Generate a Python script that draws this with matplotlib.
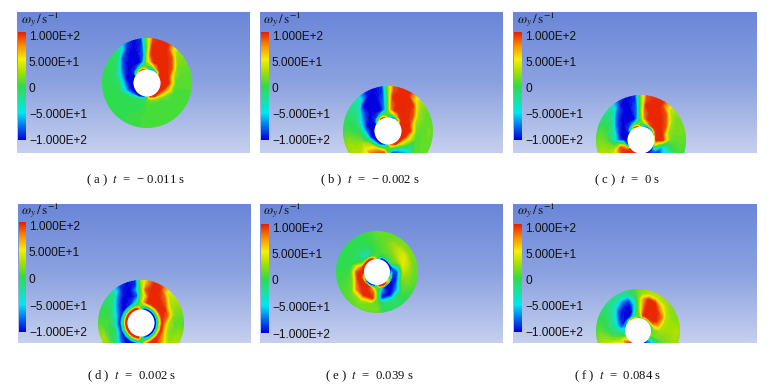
import numpy as np
import matplotlib
matplotlib.use("Agg")
import matplotlib.pyplot as plt
from matplotlib.colors import LinearSegmentedColormap
from matplotlib.patches import Circle

plt.rcParams["mathtext.fontset"] = "stix"
plt.rcParams["font.family"] = ["Liberation Sans", "DejaVu Sans"]

# polar sampling of the field: degrees clockwise from the top, and fraction from hole edge to rim
angles_deg = [0, 8, 18, 30, 45, 60, 75, 90, 110, 130, 150, 170, 180, 190, 210, 230, 250, 270, 285, 300, 315, 330, 342, 352]
ring_fracs = [0, .05, .12, .25, .45, .65, .82, 1]

omega_a = [
 [0,-80,-100,-90,-30,100,100,100,100,100,100,90,0,-90,-100,-100,-100,-100,-100,-100,30,90,100,80],
 [0,-30,-40,-20,40,100,100,100,100,100,100,60,0,-60,-100,-100,-100,-100,-100,-100,-20,30,40,30],
 [10,10,25,70,100,100,100,100,100,70,30,15,10,0,-20,-70,-100,-100,-100,-100,-90,-60,-20,0],
 [30,60,100,100,100,100,100,100,60,15,5,5,5,0,0,-5,-60,-70,-100,-100,-100,-100,-100,-50],
 [25,95,100,100,100,90,25,10,5,5,5,5,5,0,0,0,-3,-8,-35,-80,-100,-100,-100,-80],
 [10,100,100,100,90,15,10,8,5,5,5,5,5,3,0,0,0,-3,-5,-8,-80,-100,-100,-85],
 [15,95,100,100,25,15,10,8,5,5,5,5,5,3,0,0,0,-3,-3,-5,-10,-90,-100,-90],
 [20,90,100,90,20,15,10,8,5,5,5,5,5,3,0,0,0,-3,-3,-5,-10,-60,-100,-90],
]
omega_b = [
 [0,-60,-100,-100,-40,100,100,100,100,100,100,80,0,-80,-100,-100,-100,-100,-100,-100,30,100,100,60],
 [0,-30,-60,-30,30,100,100,100,100,100,100,50,0,-50,-100,-100,-100,-100,-100,-100,-20,40,50,20],
 [10,20,30,70,100,100,100,100,100,60,20,10,5,0,-15,-50,-100,-100,-100,-100,-90,-60,-20,0],
 [10,70,100,100,100,100,100,100,50,15,-50,-90,0,90,70,30,-20,-70,-100,-100,-100,-100,-100,-60],
 [10,85,100,100,100,90,25,12,8,-30,-90,-100,0,100,100,50,15,-5,-40,-75,-100,-100,-100,-70],
 [10,100,100,100,100,25,15,10,10,8,-30,-30,0,60,60,30,20,0,-5,-20,-100,-100,-100,-80],
 [15,90,100,100,40,15,10,15,12,10,0,0,0,20,25,30,25,5,-5,-15,-30,-100,-100,-90],
 [20,90,100,100,30,15,10,12,12,8,0,0,0,10,15,20,20,0,-5,-15,-30,-90,-100,-90],
]
omega_c = [
 [0,-80,-100,-100,-100,-90,-60,50,-100,-100,-100,-100,0,100,100,100,-100,-100,-100,-100,-40,100,100,60],
 [0,-30,-50,-50,-10,60,100,100,40,-80,-100,-100,0,100,100,100,-60,-100,-100,-100,-40,40,50,20],
 [10,20,50,90,100,100,100,100,0,-70,-100,-100,0,100,100,100,60,-100,-100,-100,-90,-60,-30,0],
 [10,70,100,100,100,100,100,100,-60,-100,-100,-100,0,100,100,100,90,-80,-100,-100,-100,-100,-100,-50],
 [20,85,100,100,100,90,25,15,-30,-60,-40,-30,0,40,60,80,30,-20,-30,-80,-100,-100,-100,-70],
 [10,100,100,100,90,25,15,10,0,-30,-20,-10,0,20,30,40,25,10,0,-10,-75,-100,-100,-80],
 [15,90,100,100,35,15,15,12,5,-10,0,0,0,10,20,30,30,15,5,-10,-20,-100,-100,-90],
 [20,90,100,100,35,15,15,10,0,-20,0,0,0,5,15,20,25,10,0,-15,-25,-80,-100,-90],
]
omega_d = [
 [0,-70,-100,-100,-100,-100,-100,-100,-100,-100,-100,-60,0,100,100,100,100,100,100,100,100,100,100,70],
 [0,-70,-100,-100,-100,-100,-100,-100,-100,-100,-100,-80,0,100,100,100,100,100,100,100,100,100,100,70],
 [20,10,0,0,0,0,0,0,0,-10,-20,-20,0,10,10,0,0,0,0,0,0,0,10,10],
 [20,70,100,100,100,100,100,100,100,100,100,70,-30,-100,-100,-100,-100,-100,-100,-100,-100,-90,-60,-20],
 [15,50,100,100,100,100,85,30,25,70,100,100,0,-100,-100,-70,-5,-15,-30,-70,-100,-100,-100,-80],
 [10,90,100,100,85,30,20,10,15,25,20,20,0,0,-10,-10,0,5,0,-10,-70,-100,-100,-60],
 [20,70,100,100,35,25,15,10,25,30,30,20,10,10,15,20,25,5,0,-10,-15,-95,-100,-90],
 [30,60,100,85,40,30,15,5,20,25,20,15,10,10,15,20,25,5,0,-5,-20,-80,-100,-90],
]
omega_e = [
 [0,-60,-100,-100,-100,-100,-100,-80,-60,30,100,100,0,-100,-100,-60,60,100,100,100,100,100,100,60],
 [0,-30,-100,-100,-100,-100,-100,-60,-20,60,100,80,0,-80,-100,-100,20,100,100,100,100,100,80,30],
 [5,0,-5,0,5,10,-70,-90,-100,-100,-100,-10,10,30,100,100,100,100,80,20,10,-5,-5,5],
 [5,5,10,10,10,15,-30,-80,-90,-100,-100,-60,10,80,100,100,100,90,50,-5,-30,-30,-15,0],
 [5,8,12,18,30,40,45,35,15,-60,-100,-90,10,100,100,80,15,5,0,-5,-10,-10,-5,0],
 [8,10,15,25,35,42,35,25,15,5,-15,-5,10,15,30,15,5,0,0,0,-3,-3,0,3],
 [10,12,12,15,20,20,15,12,10,0,-10,-5,15,15,15,10,5,0,0,0,0,0,0,5],
 [10,12,12,12,12,12,12,10,5,0,-5,0,10,10,10,5,3,0,0,0,0,0,3,5],
]
omega_f = [
 [0,-60,-100,-100,-100,-80,-50,0,20,-60,-100,-100,0,100,100,60,0,-60,-80,-60,50,80,80,40],
 [5,20,60,60,60,40,10,10,15,-50,-100,-100,0,100,100,60,0,-30,-60,-70,-60,-50,-30,15],
 [5,30,100,100,100,90,50,15,15,-60,-100,-100,0,100,100,80,10,-30,-80,-100,-100,-100,-60,0],
 [5,50,100,100,100,100,70,25,15,-30,-60,-40,0,40,60,50,15,-20,-60,-90,-100,-100,-100,-30],
 [8,60,100,100,100,85,30,25,15,-10,-50,-30,0,30,70,100,20,-10,-20,-40,-90,-100,-100,-50],
 [10,60,100,100,60,30,25,25,20,5,-10,-10,0,20,40,50,30,5,-5,-15,-35,-70,-80,-25],
 [15,25,35,35,30,20,20,30,25,10,0,0,0,10,25,35,30,10,0,-10,-20,-25,-20,-5],
 [10,20,25,25,20,15,20,25,20,10,0,0,0,10,20,25,20,5,0,-10,-15,-15,-10,0],
]

tick_values = [100, 50, 0, -50, -100]
tick_labels = ["1.000E+2", "5.000E+1", "0", "\u22125.000E+1", "\u22121.000E+2"]
caption_letters = ["a", "b", "c", "d", "e", "f"]
caption_times = ["\u2212 0.011", "\u2212 0.002", "0", "0.002", "0.039", "0.084"]

rainbow = LinearSegmentedColormap.from_list("ansys", [
    (0.00, "#0000e0"), (0.125, "#0070f0"), (0.25, "#00e8f0"), (0.40, "#20e090"),
    (0.50, "#30dc48"), (0.625, "#a0e000"), (0.75, "#f8f000"), (0.875, "#f89000"), (1.00, "#e82000")])
sky = LinearSegmentedColormap.from_list("sky", ["#6a86d8", "#8ca2e0", "#c6d0ee"])

# panel layout in reference pixels
panels = [
    dict(box=(17, 12, 250, 153),  c=(147, 83),  R=45, r=13.5, bar=(18, 26, 32, 140),   lab=(36.5, 141.5), ttl=(21, 20),  cap=(136, 180), data=omega_a),
    dict(box=(260, 12, 503, 153), c=(388, 131), R=45, r=13.5, bar=(261, 269, 32, 140), lab=(36.5, 141.5), ttl=(263, 20), cap=(370, 180), data=omega_b),
    dict(box=(513, 12, 757, 153), c=(641, 140), R=45, r=13.5, bar=(514, 522, 32, 140), lab=(36.5, 141.5), ttl=(517, 20), cap=(627, 180), data=omega_c),
    dict(box=(18, 204, 251, 343), c=(141, 323), R=43, r=13.5, bar=(19, 26, 222, 332),  lab=(227, 333),   ttl=(21, 211), cap=(132, 376), data=omega_d),
    dict(box=(260, 204, 503, 343),c=(377, 272), R=41, r=13,   bar=(261, 269, 224, 333),lab=(228.5, 334.5),ttl=(263, 211),cap=(369, 376), data=omega_e),
    dict(box=(513, 204, 757, 343),c=(638, 331), R=42, r=13,   bar=(514, 522, 224, 332),lab=(228.5, 333.5),ttl=(517, 211),cap=(618, 376), data=omega_f),
]

W, H = 776, 387
fig = plt.figure(figsize=(W / 100, H / 100), dpi=100, facecolor="white")
levels = np.linspace(-100, 100, 61)
th = np.deg2rad(np.array(angles_deg + [360.0]))
fr = np.array(ring_fracs)

for k, p in enumerate(panels):
    x0, y0, x1, y1 = p["box"]
    ax = fig.add_axes([x0 / W, 1 - y1 / H, (x1 - x0) / W, (y1 - y0) / H])
    ax.axis("off")
    ax.imshow(np.linspace(0, 1, 200)[:, None], extent=(x0, x1, y1, y0), cmap=sky,
              aspect="auto", zorder=0, interpolation="bilinear")

    Z = np.array(p["data"], dtype=float)
    Z = np.hstack([Z, Z[:, :1]])
    rad = p["r"] + fr * (p["R"] * 1.04 - p["r"])
    T, Rr = np.meshgrid(th, rad)
    X = p["c"][0] + Rr * np.sin(T)
    Y = p["c"][1] - Rr * np.cos(T)
    cs = ax.contourf(X, Y, Z, levels=levels, cmap=rainbow, vmin=-100, vmax=100,
                     extend="both", zorder=2, antialiased=True)
    cs.set_edgecolor("face")
    cs.set_linewidth(0.25)
    cs.set_clip_path(Circle(p["c"], p["R"], transform=ax.transData))
    ax.add_patch(Circle(p["c"], p["r"], fc="white", ec="none", zorder=3))

    bx0, bx1, by0, by1 = p["bar"]
    ax.imshow(np.linspace(100, -100, 200)[:, None], extent=(bx0, bx1, by1, by0), cmap=rainbow,
              vmin=-100, vmax=100, aspect="auto", zorder=4, interpolation="bilinear")
    ax.set_xlim(x0, x1)
    ax.set_ylim(y1, y0)

    ly0, ly1 = p["lab"]
    for v, s in zip(tick_values, tick_labels):
        yy = ly0 + (100 - v) / 200 * (ly1 - ly0)
        ax.text(bx1 + 3, yy, s, fontsize=8.6, color="#111111", va="center", ha="left", zorder=5)
    ax.text(p["ttl"][0], p["ttl"][1], r"$\omega_y\,/\,\mathrm{s}^{-1}$", fontsize=9.5,
            color="#111111", va="center", ha="left", zorder=5)

    cap = f"( {caption_letters[k]} )  $t$  =  {caption_times[k]} s"
    fig.text(p["cap"][0] / W, 1 - p["cap"][1] / H, cap, fontsize=9.2, ha="center", va="center",
             family=["Liberation Serif", "DejaVu Serif"], color="#111111")

fig.savefig("out.png", dpi=100, facecolor="white")
